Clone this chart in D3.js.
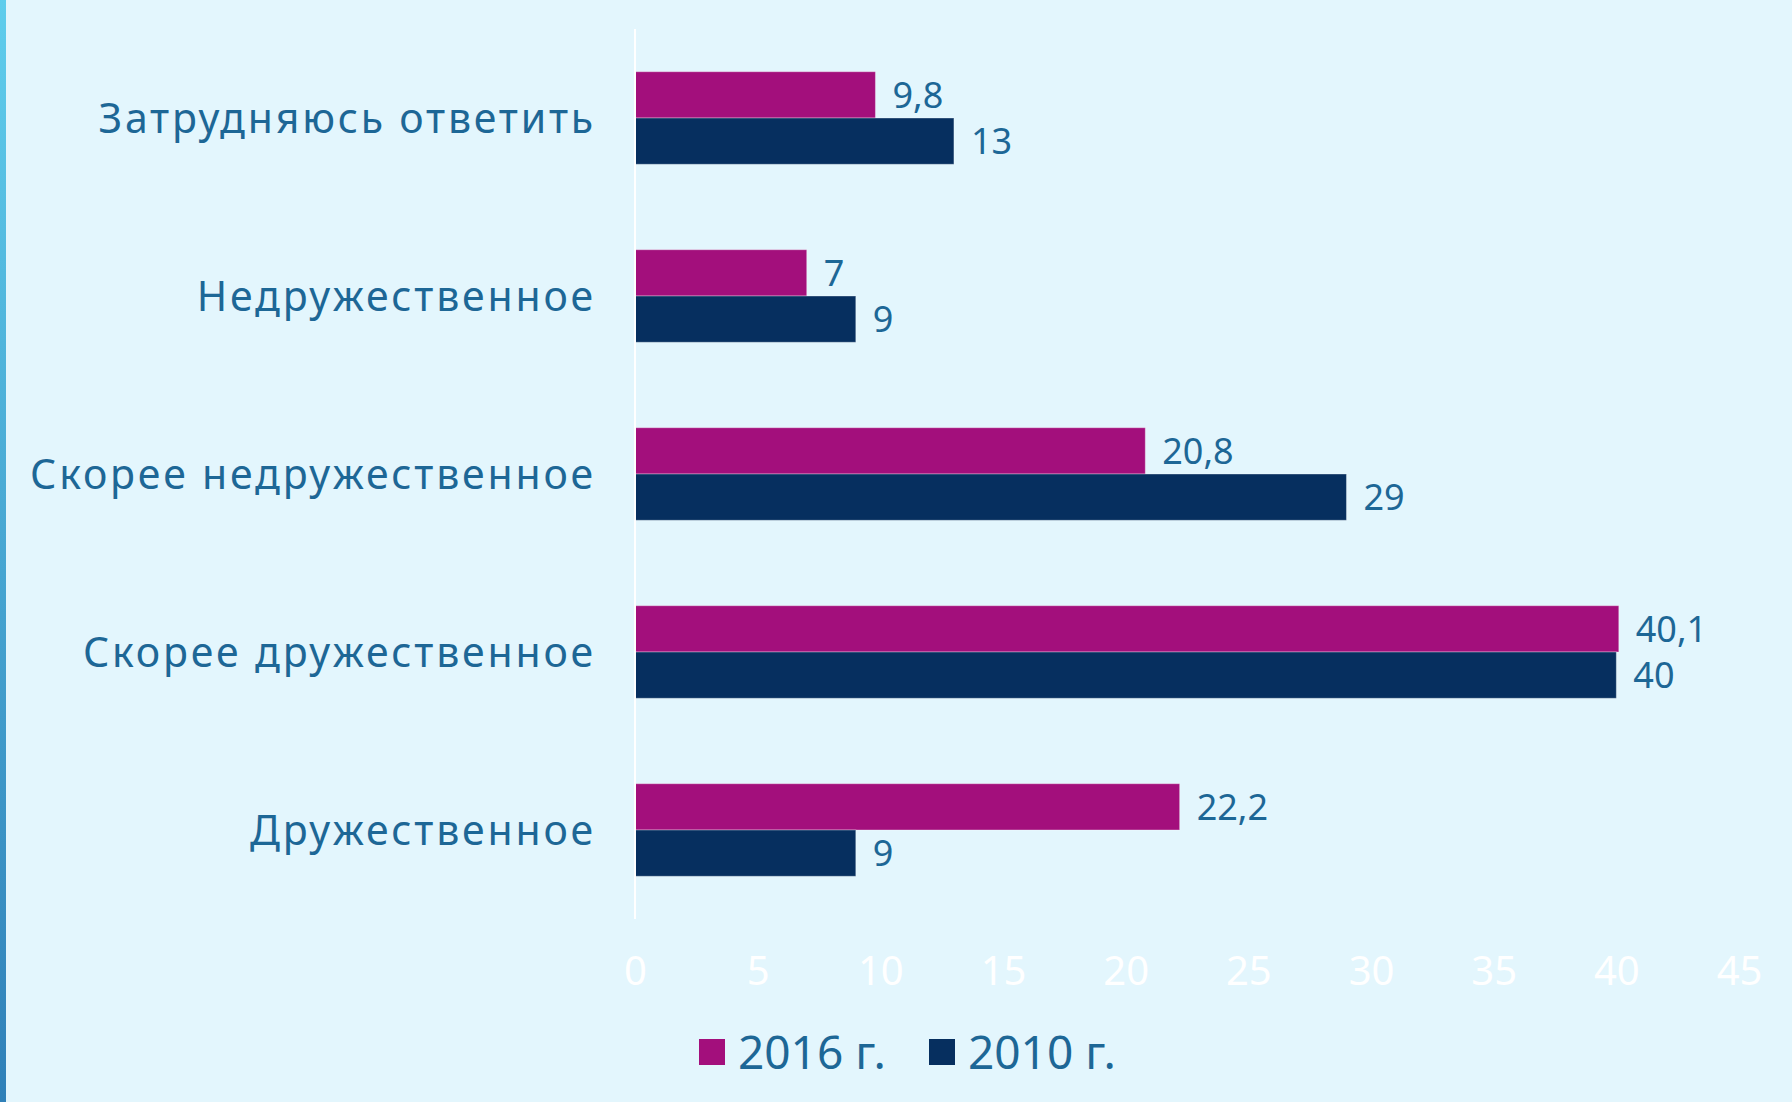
<!DOCTYPE html>
<html>
<head>
<meta charset="utf-8">
<script src="https://cdn.jsdelivr.net/npm/d3@7"></script>
<style>
  html, body { margin: 0; padding: 0; background: #e3f6fd; }
  svg { display: block; }
  text { font-family: "Noto Sans", "DejaVu Sans", sans-serif; }
</style>
</head>
<body>
<svg id="chart" width="1792" height="1102"></svg>
<script>
// categories, top to bottom
const categories = [
  'Затрудняюсь ответить',
  'Недружественное',
  'Скорее недружественное',
  'Скорее дружественное',
  'Дружественное'
]
const seriesNames = ['2016 г.', '2010 г.']
const values2016 = [9.8, 7, 20.8, 40.1, 22.2]
const values2010 = [13, 9, 29, 40, 9]
const xTicks = [0, 5, 10, 15, 20, 25, 30, 35, 40, 45]

const colors = ['#a30f7c', '#062f5f']
const textColor = '#1d6796'

function drawChart() {
  const svg = d3.select('#chart')
  const width = 1792
  const height = 1102

  // left accent strip
  const grad = svg.append('defs').append('linearGradient')
    .attr('id', 'strip').attr('x1', 0).attr('y1', 0).attr('x2', 0).attr('y2', 1)
  grad.append('stop').attr('offset', '0%').attr('stop-color', '#5fcdec')
  grad.append('stop').attr('offset', '100%').attr('stop-color', '#2f80b8')

  svg.append('rect')
    .attr('width', width).attr('height', height).attr('fill', '#e3f6fd')
  svg.append('rect')
    .attr('width', 6).attr('height', height).attr('fill', 'url(#strip)')

  const x = d3.scaleLinear().domain([0, 45]).range([635, 1739])
  const y = d3.scaleBand().domain(categories).range([29, 919])
    .paddingInner(0.48).paddingOuter(0.24)
  const ySub = d3.scaleBand().domain(seriesNames).range([0, y.bandwidth()])

  const fmt = d3.formatLocale({ decimal: ',', thousands: ' ', grouping: [3], currency: ['', ''] }).format('~g')

  const rows = categories.map((c, i) => ({
    cat: c,
    items: [
      { s: seriesNames[0], v: values2016[i], color: colors[0] },
      { s: seriesNames[1], v: values2010[i], color: colors[1] }
    ]
  }))

  const groups = svg.append('g').selectAll('g')
    .data(rows)
    .join('g')
    .attr('transform', d => `translate(0,${y(d.cat)})`)

  groups.selectAll('rect')
    .data(d => d.items)
    .join('rect')
    .attr('x', x(0))
    .attr('y', d => ySub(d.s))
    .attr('width', d => x(d.v) - x(0))
    .attr('height', ySub.bandwidth())
    .attr('fill', d => d.color)
    .attr('stroke', 'rgba(255,255,255,0.35)')
    .attr('stroke-width', 1)

  groups.selectAll('text.val')
    .data(d => d.items)
    .join('text')
    .attr('class', 'val')
    .attr('x', d => x(d.v) + 17)
    .attr('y', d => ySub(d.s) + ySub.bandwidth() / 2)
    .attr('dy', '0.36em')
    .attr('fill', textColor)
    .style('font-size', '36px')
    .text(d => fmt(d.v))

  // category labels
  svg.append('g').selectAll('text')
    .data(categories)
    .join('text')
    .attr('x', 596)
    .attr('y', d => y(d) + y.bandwidth() / 2)
    .attr('dy', '0.36em')
    .attr('text-anchor', 'end')
    .attr('fill', textColor)
    .style('font-size', '41px')
    .style('letter-spacing', '2.8px')
    .text(d => d)

  // vertical axis line
  svg.append('line')
    .attr('x1', x(0)).attr('x2', x(0))
    .attr('y1', 29).attr('y2', 919)
    .attr('stroke', '#ffffff').attr('stroke-width', 2)

  // x axis (labels only)
  const xAxis = svg.append('g')
    .attr('transform', 'translate(0,956)')
    .call(d3.axisBottom(x).tickValues(xTicks).tickSize(0).tickPadding(0).tickFormat(d3.format('d')))
  xAxis.select('.domain').remove()
  xAxis.selectAll('text')
    .attr('fill', '#ffffff')
    .attr('dy', '0.72em')
    .style('font-size', '40px')
    .style('font-family', '"Noto Sans", sans-serif')

  // legend
  const legend = svg.append('g')
  const legX = [699, 929]
  seriesNames.forEach((s, i) => {
    legend.append('rect')
      .attr('x', legX[i]).attr('y', 1039)
      .attr('width', 26).attr('height', 26)
      .attr('fill', colors[i])
    legend.append('text')
      .attr('x', legX[i] + 39).attr('y', 1052)
      .attr('dy', '0.36em')
      .attr('fill', textColor)
      .style('font-size', '46px')
      .text(s)
  })
}

document.addEventListener('DOMContentLoaded', drawChart, false)
</script>
</body>
</html>
